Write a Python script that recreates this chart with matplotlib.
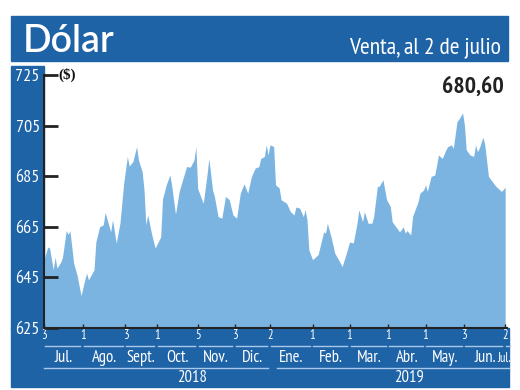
import matplotlib
matplotlib.use("Agg")
import matplotlib.pyplot as plt
from matplotlib.patches import Rectangle
import matplotlib.transforms as mtransforms

# trading-day index (0 = 3 jul 2018, 249 = 2 jul 2019) and sell price in $
dia = [0, 2, 3, 5, 6, 7, 9, 10, 12, 13, 14, 16, 18, 20, 22, 23, 24, 27, 28, 30,
       32, 33, 36, 37, 39, 41, 43, 45, 46, 48, 50, 51, 53, 54, 55, 56, 58, 60, 63, 64,
       66, 68, 69, 71, 73, 75, 77, 79, 81, 82, 83, 86, 88, 89, 91, 92, 94, 96, 98, 100,
       102, 104, 106, 108, 110, 112, 114, 116, 117, 119, 120, 121, 122, 124, 125, 127, 128, 131, 133, 135,
       136, 138, 140, 141, 142, 143, 145, 148, 149, 151, 152, 153, 155, 157, 159, 161, 163, 165, 167, 169,
       170, 172, 173, 175, 177, 178, 180, 181, 183, 185, 187, 188, 190, 192, 194, 195, 196, 198, 199, 202,
       203, 205, 206, 207, 209, 211, 213, 215, 217, 218, 220, 221, 223, 224, 226, 227, 228, 230, 232, 233,
       234, 235, 237, 238, 240, 242, 244, 245, 247, 249]
venta = [652.0, 657.0, 656.6, 648.0, 653.0, 648.7, 651.0, 653.0, 663.5, 662.0, 663.4, 650.7, 645.4, 637.8, 644.0, 646.7, 644.0, 648.0, 659.0, 665.0,
         665.8, 670.7, 663.0, 667.8, 658.6, 666.4, 682.0, 692.8, 689.0, 690.8, 696.7, 691.4, 686.8, 679.6, 665.8, 669.7, 662.5, 656.6, 661.0, 676.0,
         681.6, 685.5, 681.0, 670.0, 679.0, 684.0, 688.8, 688.6, 691.4, 696.7, 680.0, 674.3, 685.5, 692.0, 679.6, 677.0, 669.0, 668.4, 677.0, 675.7,
         669.7, 668.4, 678.3, 682.0, 678.3, 684.9, 688.2, 688.8, 692.0, 692.8, 697.4, 693.4, 697.4, 696.7, 681.6, 680.3, 675.7, 674.3, 671.0, 669.7,
         672.8, 672.4, 669.0, 671.7, 667.8, 655.9, 652.0, 654.0, 657.0, 663.0, 662.5, 666.4, 661.0, 654.6, 652.0, 649.3, 654.0, 659.0, 658.6, 666.4,
         671.7, 667.0, 671.0, 666.4, 666.4, 669.0, 681.0, 681.0, 683.6, 675.7, 673.0, 667.0, 665.0, 663.0, 665.0, 662.5, 663.5, 661.8, 669.0, 675.0,
         678.3, 679.6, 681.6, 679.0, 684.9, 685.5, 693.4, 692.0, 695.4, 696.7, 697.4, 696.0, 706.6, 707.5, 710.0, 705.3, 695.4, 693.4, 692.8, 697.4,
         694.7, 696.0, 700.4, 697.4, 684.9, 682.9, 681.0, 680.3, 679.0, 680.6]

tick_dias = [0, 21, 44, 61, 83, 103, 122, 145, 165, 186, 206, 227, 249]
tick_labels = ["3", "1", "3", "1", "5", "3", "2", "1", "1", "1", "1", "3", "2"]
meses = ["Jul.", "Ago.", "Sept.", "Oct.", "Nov.", "Dic.", "Ene.", "Feb.",
         "Mar.", "Abr.", "May.", "Jun.", "Jul."]
anios = ["2018", "2019"]
anio_pos = [80, 197]
anio_tramos = [(0, 121), (126, 251)]
y_ticks = [625, 645, 665, 685, 705, 725]

AZUL = "#1f63a7"
CELESTE = "#7bb4e1"
LINEA = "#a9c9ea"
NARROW = ["PT Sans Narrow", "DejaVu Sans"]

W, H = 520, 390


def fx(x):
    return x / W


def fy(y):
    return 1 - y / H


fig = plt.figure(figsize=(5.2, 3.9), dpi=100)

# header bar and blue frame strips
fig.patches.append(Rectangle((fx(11), fy(61)), fx(497), 45 / H, transform=fig.transFigure,
                             color=AZUL, zorder=0))
fig.patches.append(Rectangle((fx(11), fy(329)), fx(33), (329 - 66) / H, transform=fig.transFigure,
                             color=AZUL, zorder=0))
fig.patches.append(Rectangle((fx(11), fy(387)), fx(498), (387 - 328) / H, transform=fig.transFigure,
                             color=AZUL, zorder=0))

fig.text(fx(23), fy(52), "Dólar", color="white", fontsize=27, fontweight="semibold",
         family="Lato", va="baseline", ha="left")
fig.text(fx(501), fy(53), "Venta, al 2 de julio", color="white", fontsize=17,
         family=NARROW, va="baseline", ha="right")

ax = fig.add_axes([fx(44), fy(328), 463 / W, 253 / H])
ax.set_zorder(2)
ax.patch.set_alpha(0)
ax.fill_between(dia, venta, 625, color=CELESTE, linewidth=0)
ax.set_xlim(0, 250)
ax.set_ylim(625, 725)

for s in ["top", "right"]:
    ax.spines[s].set_visible(False)
for s in ["left", "bottom"]:
    ax.spines[s].set_color("#222222")
    ax.spines[s].set_linewidth(1.5)

ax.set_yticks(y_ticks)
ax.set_yticklabels([str(v) for v in y_ticks], color="white", fontsize=13, family=NARROW)
ax.tick_params(axis="y", direction="in", length=10, width=2, color="#222222", pad=3)

ax.set_xticks(tick_dias)
ax.set_xticklabels(tick_labels, color="white", fontsize=9, family=NARROW)
ax.tick_params(axis="x", direction="in", length=3, width=1, color="#222222", pad=1)

ax.text(8, 725, "($)", fontsize=11, fontweight="bold", family="Liberation Serif",
        va="center", ha="left", color="#111111")
ax.text(248.5, 720, "680,60", fontsize=17, fontweight="bold", family=NARROW,
        va="center", ha="right", color="#222222")

# month labels, separators and years in the bottom band
trans = mtransforms.blended_transform_factory(ax.transData, fig.transFigure)
for i, m in enumerate(meses):
    if i < len(tick_dias) - 1:
        a, b = tick_dias[i], tick_dias[i + 1]
        ax.plot([a + 0.5, b - 1.5], [fy(346)] * 2, transform=trans, color=LINEA,
                linewidth=1, clip_on=False)
        ax.text((a + b) / 2, fy(358), m, transform=trans, color="white", fontsize=12,
                family=NARROW, ha="center", va="center")
    else:
        ax.plot([tick_dias[i] + 0.5, 251.5], [fy(346)] * 2, transform=trans, color=LINEA,
                linewidth=1, clip_on=False)
        ax.text(252, fy(358), m, transform=trans, color="white", fontsize=9,
                family=NARROW, ha="right", va="center")

for lab, pos, (a, b) in zip(anios, anio_pos, anio_tramos):
    ax.plot([a, b], [fy(368)] * 2, transform=trans, color=LINEA, linewidth=1, clip_on=False)
    ax.text(pos, fy(378), lab, transform=trans, color="white", fontsize=12, family=NARROW,
            ha="center", va="center")

fig.savefig("out.png", dpi=100)
